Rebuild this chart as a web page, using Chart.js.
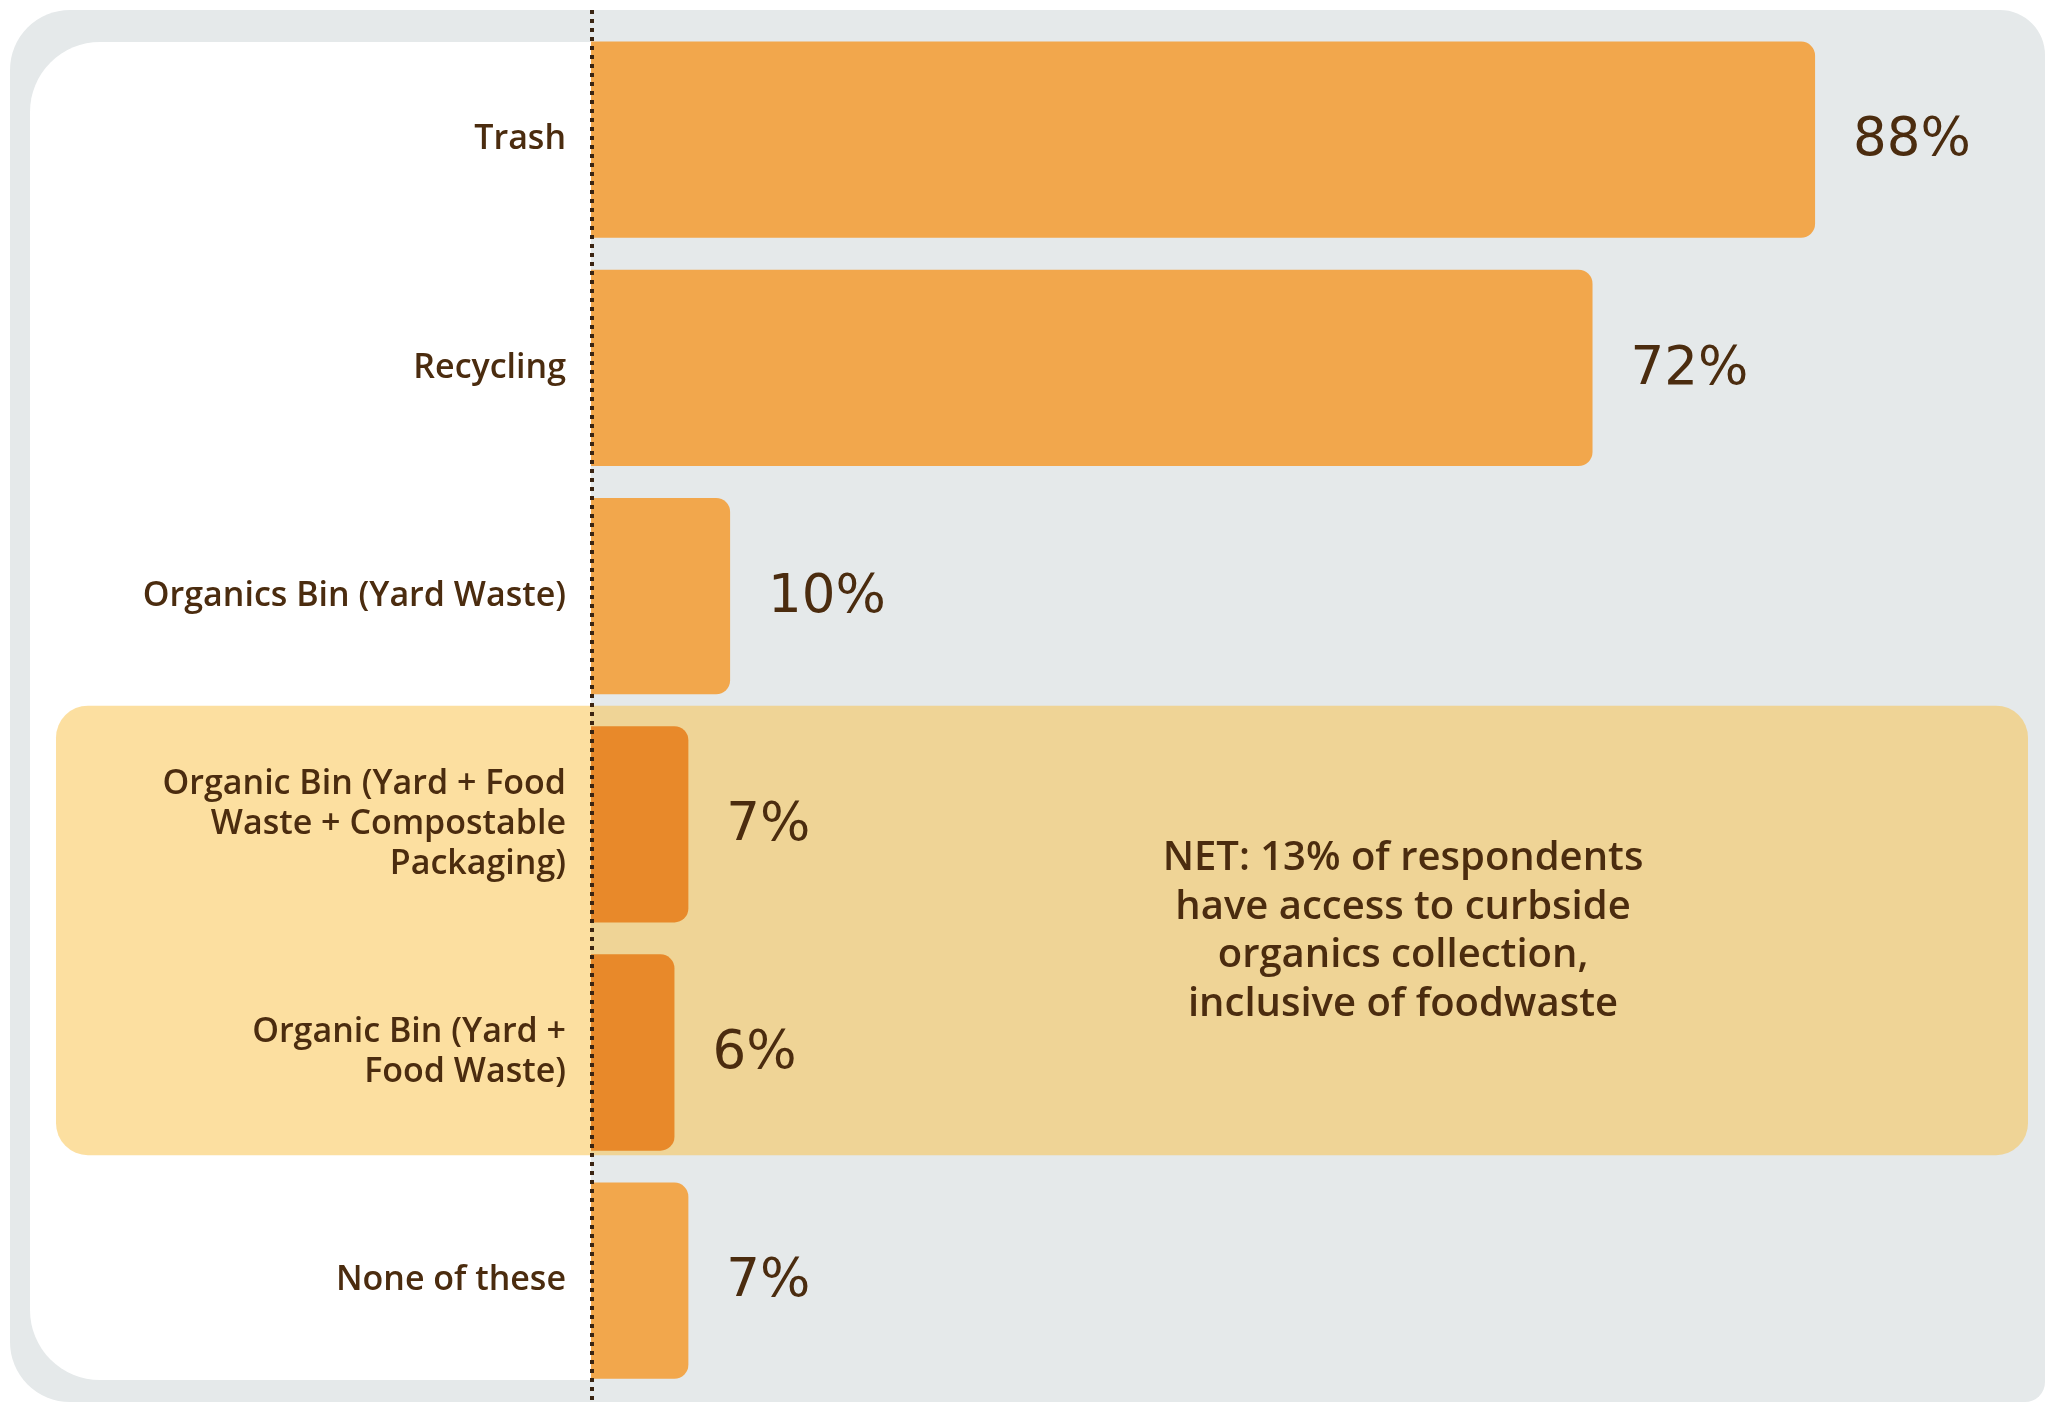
<!DOCTYPE html>
<html>
<head>
<meta charset="utf-8">
<script src="https://cdn.jsdelivr.net/npm/chart.js@4.4.1/dist/chart.umd.min.js"></script>
<style>
  html, body { margin: 0; padding: 0; background: #ffffff; }
  #wrap { width: 2047px; height: 1402px; }
</style>
</head>
<body>
<div id="wrap"><canvas id="chart" width="2047" height="1402"></canvas></div>
<script>
const categories = [
  'Trash',
  'Recycling',
  'Organics Bin (Yard Waste)',
  ['Organic Bin (Yard + Food', 'Waste + Compostable', 'Packaging)'],
  ['Organic Bin (Yard +', 'Food Waste)'],
  'None of these'
];
const shares = [88, 72, 10, 7, 6, 7];
const netGroup = [3, 4];
const netNote = [
  'NET: 13% of respondents',
  'have access to curbside',
  'organics collection,',
  'inclusive of foodwaste'
];

const brown = '#4b2c0f';
const barColors = categories.map((c, i) => netGroup.includes(i) ? '#e8892a' : '#f2a74c');

function roundBox(ctx, x, y, w, h, r) {
  ctx.beginPath();
  ctx.roundRect(x, y, w, h, r);
  ctx.fill();
}

const decor = {
  id: 'decor',
  beforeDraw(chart) {
    const ctx = chart.ctx;
    const y = chart.scales.y;
    const left = chart.chartArea.left;
    const band = y.getPixelForValue(1) - y.getPixelForValue(0);
    ctx.save();
    // grey card
    ctx.fillStyle = '#e5e9ea';
    roundBox(ctx, 10, 10, 2035, 1392, [60, 45, 20, 60]);
    // white label panel
    ctx.fillStyle = '#ffffff';
    roundBox(ctx, 30, 42, left - 30, 1338, [70, 0, 0, 70]);
    // NET highlight box
    const top = y.getPixelForValue(netGroup[0]) - band * 0.52;
    const bottom = y.getPixelForValue(netGroup[1]) + band * 0.45;
    ctx.fillStyle = 'rgba(249, 191, 65, 0.5)';
    roundBox(ctx, 56, top, 1972, bottom - top, 32);
    ctx.restore();
  },
  afterDatasetsDraw(chart) {
    const ctx = chart.ctx;
    const x = chart.scales.x;
    const y = chart.scales.y;
    const left = chart.chartArea.left;
    ctx.save();
    // dotted zero line
    ctx.strokeStyle = '#3a2412';
    ctx.lineWidth = 4;
    ctx.setLineDash([4, 5]);
    ctx.beginPath();
    ctx.moveTo(left + 1, 10);
    ctx.lineTo(left + 1, 1402);
    ctx.stroke();
    ctx.setLineDash([]);
    // value labels
    ctx.fillStyle = brown;
    ctx.font = '53px "DejaVu Sans"';
    ctx.textAlign = 'left';
    ctx.textBaseline = 'middle';
    shares.forEach((v, i) => {
      ctx.fillText(v + '%', x.getPixelForValue(v) + 38, y.getPixelForValue(i) + 2);
    });
    // NET note
    const mid = (y.getPixelForValue(netGroup[0]) + y.getPixelForValue(netGroup[1])) / 2;
    ctx.font = '600 40px "Open Sans"';
    ctx.textAlign = 'center';
    netNote.forEach((line, i) => {
      ctx.fillText(line, 1403, mid - 7 + (i - 1.5) * 48.5);
    });
    ctx.restore();
  }
};

new Chart(document.getElementById('chart'), {
  type: 'bar',
  data: {
    labels: categories,
    datasets: [{
      data: shares,
      backgroundColor: barColors,
      borderRadius: 14,
      borderSkipped: 'start',
      categoryPercentage: 1,
      barPercentage: 0.86
    }]
  },
  options: {
    indexAxis: 'y',
    responsive: false,
    animation: false,
    events: [],
    layout: { padding: { top: 25.6, bottom: 7.2, right: 65, left: 0 } },
    plugins: { legend: { display: false }, tooltip: { enabled: false } },
    scales: {
      x: { display: false, min: 0, max: 100 },
      y: {
        grid: { display: false, drawTicks: false },
        border: { display: false },
        ticks: {
          color: brown,
          padding: 25,
          font: { family: '"Open Sans"', size: 34, weight: '600', lineHeight: 1.19 }
        },
        afterFit(scale) {
          scale.width = 591;
          scale.paddingTop = 0;
          scale.paddingBottom = 0;
        }
      }
    }
  },
  plugins: [decor]
});
</script>
</body>
</html>
